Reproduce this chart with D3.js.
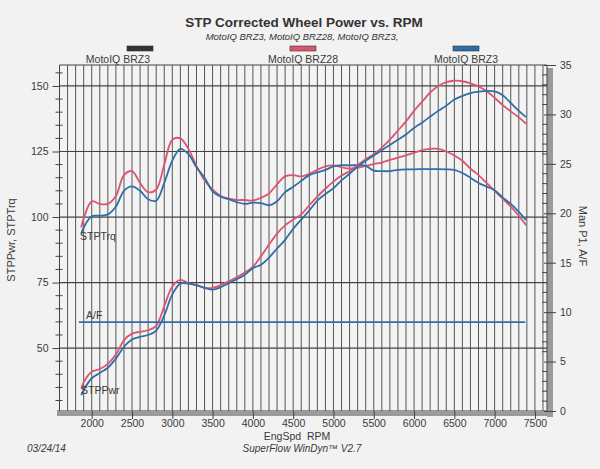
<!DOCTYPE html>
<html><head><meta charset="utf-8">
<script src="https://cdn.jsdelivr.net/npm/d3@7"></script>
<style>
html,body{margin:0;padding:0;background:#f2f2f2;}
svg{display:block;font-family:"Liberation Sans",Arial,sans-serif;}
</style></head>
<body>
<svg id="chart" width="600" height="469"></svg>
<script>
const rpm = [1870,1900,2000,2100,2200,2300,2400,2500,2600,2700,2800,2900,3000,3100,3200,3300,3400,3500,3600,3700,3800,3900,4000,4100,4200,4300,4400,4500,4600,4700,4800,4900,5000,5100,5200,5300,5400,5500,5600,5700,5800,5900,6000,6100,6200,6300,6400,6500,6600,6700,6800,6900,7000,7100,7200,7300,7390];
const trqBRZ28 = [96,99.5,106,105,105,108,116,117.5,113,109.5,110.5,120,129.5,130,126,119.5,114,110.5,108,107,106.5,106.5,106.3,107.3,109,112.5,115.5,116,115.5,116.5,118,119.3,119.7,119,118.5,118.8,119.5,120.2,120.8,121.8,122.7,123.5,124.5,125.5,126,126,125,123.5,121.5,118.5,116,113,110,107,104,100.5,96.9];
const trqBRZ3 = [93.5,96,100.3,100.5,101,104,110,111.7,110,106.8,106.2,113,121.5,126,124,119,115,109.8,107.8,106.8,105.7,105,105.5,105.3,104.5,106,109.5,111.5,113.8,116,117,118,119.3,119.8,119.7,119.8,119.5,117.7,117.5,117.5,118,118.2,118.2,118.3,118.3,118.3,118.2,118,116.8,115,113,111.6,110.2,107.5,105,102,98.8];
const pwrBRZ28 = [34.5,37,41,42,44,47.5,53,55.5,56.2,56.8,58.5,66,73.5,76,74.8,74,73,73,74,75.5,77,78.8,81,85,89.5,93.7,96.8,99,101,104.5,107.8,110.8,113.5,115.8,117.5,119.8,122,124,126.5,129.5,133,136.5,140.5,144,147.5,150,151.5,152,151.8,151,149.8,148,145.5,142.7,140.3,138,135.6];
const pwrBRZ3 = [32,34,38.5,40.5,42.5,46,50.5,53.3,54.3,55,56.7,62.5,70.5,74.6,74.6,74,73,72.3,73.2,74.8,76.3,78,80.5,81.8,84.5,88,91.3,95.5,99,102.5,106.3,108.8,111,114,116.5,119.2,121.5,123.5,125.5,127.5,129.5,131.5,134,136,138.3,140.5,142.5,144.8,146.2,147.3,147.8,148.1,147.9,146.5,143.5,140.5,138.1];
const afRpm = [1840,7380];
const afBRZ3 = [9.0,9.0];
const xTicks = [2000,2500,3000,3500,4000,4500,5000,5500,6000,6500,7000,7500];
const leftTicks = [50,75,100,125,150];
const rightTicks = [0,5,10,15,20,25,30,35];
const legendNames = ["MotoIQ BRZ3","MotoIQ BRZ28","MotoIQ BRZ3"];
const legendColors = ["#333333","#dd5470","#2f6ea6"];
const RED = "#dd5470", BLUE = "#2f6ea6";

const svg = d3.select("#chart");
const L = 59.5, R = 547, T = 65, B = 411;
const x = d3.scaleLinear().domain([1600,7650]).range([L,R]);
const yL = d3.scaleLinear().domain([26,158]).range([B,T]);
const yR = d3.scaleLinear().domain([0,35]).range([B,T]);
const ink = "#3a3a3a";

svg.append("rect").attr("x",L).attr("y",T).attr("width",R-L).attr("height",B-T).attr("fill","#f3f3f3");
svg.append("rect").attr("x",57).attr("y",B-1).attr("width",R-57+6).attr("height",6).attr("fill","#9a9a9a");
svg.append("rect").attr("x",R).attr("y",T+3).attr("width",6).attr("height",B-T+3).attr("fill","#9a9a9a");

const vgrid = d3.range(1700,7650,100);
svg.append("g").selectAll("line").data(vgrid).join("line")
  .attr("x1",d=>x(d)).attr("x2",d=>x(d)).attr("y1",T).attr("y2",B)
  .attr("stroke","#555").attr("stroke-width",1);
svg.append("g").selectAll("line").data(leftTicks).join("line")
  .attr("x1",L).attr("x2",R).attr("y1",d=>yL(d)).attr("y2",d=>yL(d))
  .attr("stroke","#444").attr("stroke-width",1.2);
svg.append("line").attr("x1",L).attr("x2",R).attr("y1",T).attr("y2",T).attr("stroke","#444");
svg.append("line").attr("x1",L).attr("x2",L).attr("y1",T).attr("y2",B).attr("stroke","#444");
svg.append("line").attr("x1",R).attr("x2",R).attr("y1",T).attr("y2",B).attr("stroke","#444");

const leftAxis = d3.axisLeft(yL).tickValues(leftTicks).tickSize(7).tickPadding(4).tickFormat(d3.format("d"));
const gl = svg.append("g").attr("transform",`translate(${L},0)`).call(leftAxis);
const leftMinor = d3.range(30,158,5).filter(v=>v%25!==0);
svg.append("g").selectAll("line").data(leftMinor).join("line")
  .attr("x1",L-4).attr("x2",L+3).attr("y1",d=>yL(d)).attr("y2",d=>yL(d)).attr("stroke","#444");
const rightAxis = d3.axisRight(yR).tickValues(rightTicks).tickSize(9).tickPadding(4);
const gr = svg.append("g").attr("transform",`translate(${R},0)`).call(rightAxis);
const rightMinor = d3.range(1,35,1).filter(v=>v%5!==0);
svg.append("g").selectAll("line").data(rightMinor).join("line")
  .attr("x1",R-5).attr("x2",R).attr("y1",d=>yR(d)).attr("y2",d=>yR(d)).attr("stroke","#444");
gr.selectAll(".tick line").attr("x1",-3);
const bottomAxis = d3.axisBottom(x).tickValues(xTicks).tickSize(8).tickPadding(1).tickFormat(d3.format("d"));
const gb = svg.append("g").attr("transform",`translate(0,${B})`).call(bottomAxis);
[gl,gr,gb].forEach(g=>{
  g.select(".domain").remove();
  g.selectAll(".tick line").attr("stroke","#444");
  g.selectAll("text").attr("fill",ink).style("font-size","10.5px").style("font-family","'Liberation Sans',Arial,sans-serif");
});

const line = (ys,scale)=>d3.line().x((d,i)=>x(rpm[i])).y(d=>scale(d)).curve(d3.curveCatmullRom.alpha(0.5))(ys);
const series = [[trqBRZ28,RED],[trqBRZ3,BLUE],[pwrBRZ28,RED],[pwrBRZ3,BLUE]];
series.forEach(([ys,c])=>{
  svg.append("path").attr("d",line(ys,yL)).attr("fill","none").attr("stroke",c).attr("stroke-width",1.8);
});
svg.append("path").attr("d",d3.line().x((d,i)=>x(afRpm[i])).y(d=>yR(d))(afBRZ3))
  .attr("fill","none").attr("stroke",BLUE).attr("stroke-width",1.8);

const lbl = (t,xx,yy)=>svg.append("text").attr("x",xx).attr("y",yy).text(t).attr("fill",ink).style("font-size","10.5px");
lbl("STPTrq",80,240);
lbl("STPPwr",81,394);
lbl("A/F",86,319);

svg.append("text").attr("x",304).attr("y",27).attr("text-anchor","middle").text("STP Corrected Wheel Power vs. RPM")
  .attr("fill","#333").style("font-size","13.5px").style("font-weight","bold");
svg.append("text").attr("x",302).attr("y",39.5).attr("text-anchor","middle").text("MotoIQ BRZ3, MotoIQ BRZ28, MotoIQ BRZ3,")
  .attr("fill","#333").style("font-size","9.5px").style("font-style","italic");

const legX = [140,303,466];
legendNames.forEach((n,i)=>{
  svg.append("rect").attr("x",legX[i]-13).attr("y",46).attr("width",26).attr("height",5)
    .attr("fill",legendColors[i]).attr("stroke","#333").attr("stroke-width",0.6);
  svg.append("text").attr("x",i===0?150:legX[i]).attr("y",63).attr("text-anchor",i===0?"end":"middle").text(n)
    .attr("fill",ink).style("font-size","10.5px");
});

svg.append("text").attr("transform","translate(15,240) rotate(-90)").attr("text-anchor","middle")
  .text("STPPwr, STPTrq").attr("fill",ink).style("font-size","11px");
svg.append("text").attr("transform","translate(579,236) rotate(90)").attr("text-anchor","middle")
  .text("Man P1, A/F").attr("fill",ink).style("font-size","11px");
svg.append("text").attr("x",297).attr("y",440).attr("text-anchor","middle").text("EngSpd  RPM")
  .attr("fill",ink).style("font-size","10.5px").attr("xml:space","preserve");
svg.append("text").attr("x",302).attr("y",452).attr("text-anchor","middle").text("SuperFlow WinDyn™ V2.7")
  .attr("fill",ink).style("font-size","10px").style("font-style","italic");
svg.append("text").attr("x",27).attr("y",452).text("03/24/14")
  .attr("fill",ink).style("font-size","10px").style("font-style","italic");
</script>
</body></html>
